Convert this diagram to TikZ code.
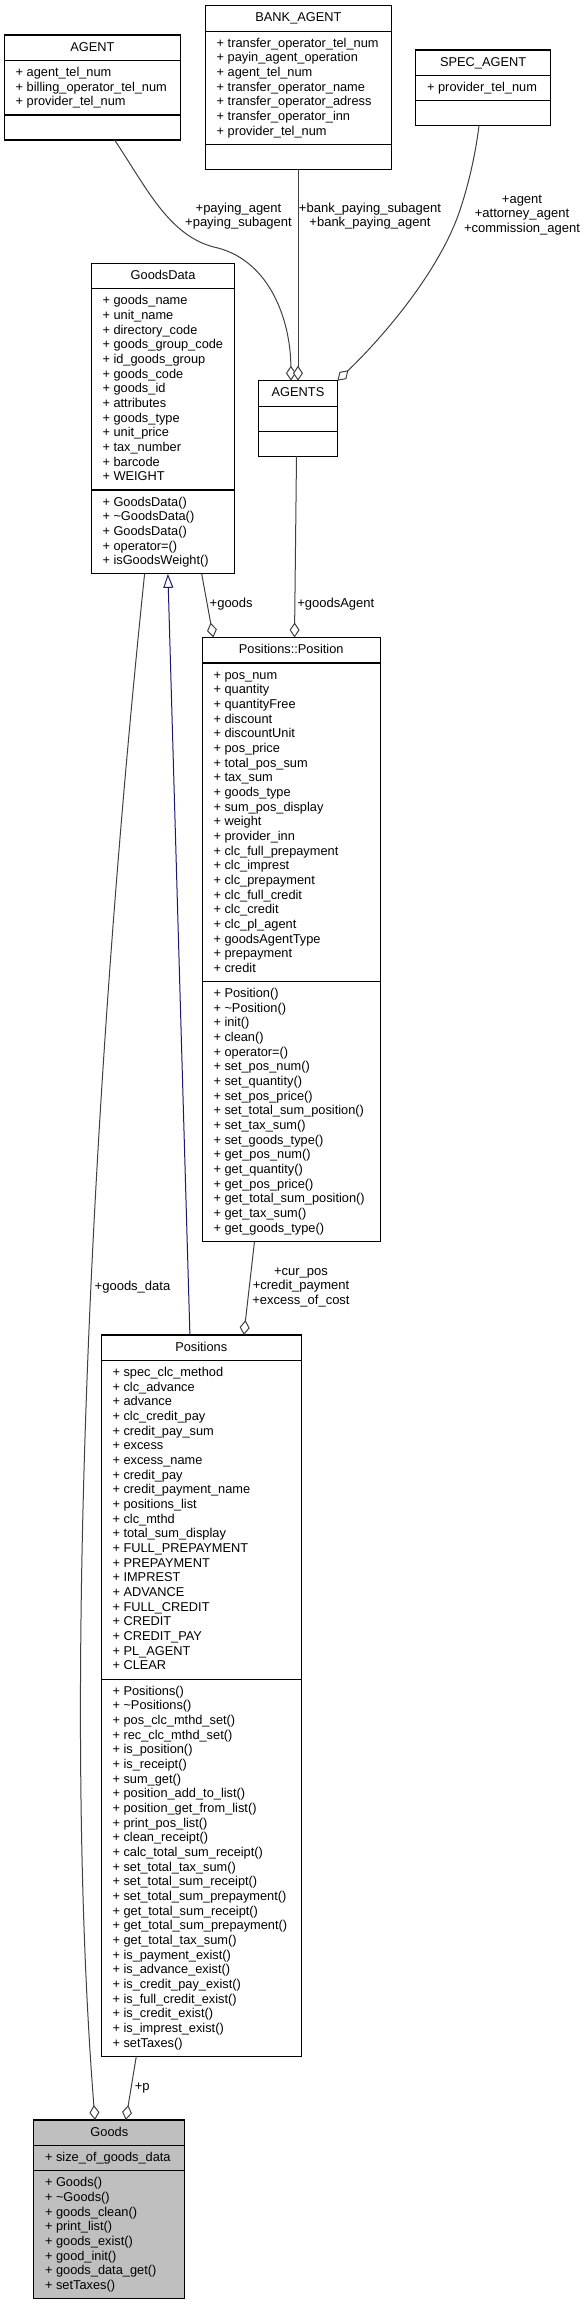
\documentclass[tikz,border=0pt]{standalone}
\usepackage{fontspec}
\setmainfont{Liberation Sans}
\usetikzlibrary{arrows.meta}
\definecolor{edgec}{HTML}{404040}
\definecolor{navyc}{HTML}{191970}
\definecolor{goodsfill}{HTML}{BFBFBF}
\tikzset{
  boxfill/.style={fill=white},
  box/.style={draw=black, line width=1.1pt, inner sep=0pt, outer sep=0pt, anchor=north west, boxfill},
  sepline/.style={draw=black, line width=1.1pt},
  txt/.style={anchor=base west, inner sep=0pt, font=\fontsize{12.8}{14.67}\selectfont},
  ttl/.style={anchor=base, inner sep=0pt, font=\fontsize{12.8}{14.67}\selectfont},
  lbl/.style={align=center, inner sep=0pt, font=\fontsize{13}{14.67}\selectfont},
  rel/.style={draw=edgec, line width=1pt},
  agg/.style={rel, {Diamond[open, fill=white, length=15pt, width=10pt]}-},
  gen/.style={draw=navyc, line width=1pt, -{Triangle[open, fill=white, length=14pt, width=10pt]}},
}
% #1 name, #2 x, #3 y(top), #4 width, #5 attr height, #6 meth height, #7 title
\newcommand{\umlbox}[7]{%
  \node[box, minimum width=#4pt, minimum height={(25.5+#5+#6)*1pt}] (#1) at (#2,#3) {};
  \draw[sepline] (#2,#3+25.5) -- ++(#4,0);
  \draw[sepline] (#2,#3+25.5+#5) -- ++(#4,0);
  \node[ttl] (#1-t) at ({#2+#4/2},{#3+16.2}) {#7};
}
% #1 name prefix, #2 x, #3 first baseline, #4 list
\newcommand{\umllines}[4]{%
  \foreach \t [count=\i from 0] in {#4} {\node[txt] (#1\i) at (#2,{#3+\i*14.67}) {+ \t};}
}
\begin{document}
\begin{tikzpicture}[x=1pt,y=-1pt]
\useasboundingbox (0,0) rectangle (586,2305);

% AGENT
\umlbox{AGENT}{4.5}{35}{175.8}{54.5}{25}{AGENT}
\umllines{AGENT-a}{15.5}{76.5}{agent\_tel\_num,billing\_operator\_tel\_num,provider\_tel\_num}

% BANK_AGENT
\umlbox{BANK}{205.5}{5.7}{185.9}{113.2}{25}{BANK\_AGENT}
\umllines{BANK-a}{216.5}{47.2}{transfer\_operator\_tel\_num,payin\_agent\_operation,agent\_tel\_num,transfer\_operator\_name,transfer\_operator\_adress,transfer\_operator\_inn,provider\_tel\_num}

% SPEC_AGENT
\umlbox{SPEC}{415.9}{50}{134.5}{25.2}{25}{SPEC\_AGENT}
\umllines{SPEC-a}{426.9}{91.5}{provider\_tel\_num}

% GoodsData
\umlbox{GoodsData}{91.3}{263.3}{143.5}{201.2}{83.85}{GoodsData}
\umllines{GoodsData-a}{102.3}{304.8}{goods\_name,unit\_name,directory\_code,goods\_group\_code,id\_goods\_group,goods\_code,goods\_id,attributes,goods\_type,unit\_price,tax\_number,barcode,WEIGHT}
\umllines{GoodsData-m}{102.3}{506}{GoodsData(),\textasciitilde GoodsData(),GoodsData(),operator=(),isGoodsWeight()}

% AGENTS
\umlbox{AGENTS}{258.5}{380.7}{79}{25}{25}{AGENTS}

% Positions::Position
\umlbox{Position}{202.3}{637.5}{177.8}{318.6}{259.9}{Positions::Position}
\umllines{Position-a}{213.3}{679}{pos\_num,quantity,quantityFree,discount,discountUnit,pos\_price,total\_pos\_sum,tax\_sum,goods\_type,sum\_pos\_display,weight,provider\_inn,clc\_full\_prepayment,clc\_imprest,clc\_prepayment,clc\_full\_credit,clc\_credit,clc\_pl\_agent,goodsAgentType,prepayment,credit}
\umllines{Position-m}{213.3}{997.6}{Position(),\textasciitilde Position(),init(),clean(),operator=(),set\_pos\_num(),set\_quantity(),set\_pos\_price(),set\_total\_sum\_position(),set\_tax\_sum(),set\_goods\_type(),get\_pos\_num(),get\_quantity(),get\_pos\_price(),get\_total\_sum\_position(),get\_tax\_sum(),get\_goods\_type()}

% Positions
\umlbox{Positions}{101.3}{1335}{199.9}{318.6}{377.25}{Positions}
\umllines{Positions-a}{112.3}{1376.5}{spec\_clc\_method,clc\_advance,advance,clc\_credit\_pay,credit\_pay\_sum,excess,excess\_name,credit\_pay,credit\_payment\_name,positions\_list,clc\_mthd,total\_sum\_display,FULL\_PREPAYMENT,PREPAYMENT,IMPREST,ADVANCE,FULL\_CREDIT,CREDIT,CREDIT\_PAY,PL\_AGENT,CLEAR}
\umllines{Positions-m}{112.3}{1695.1}{Positions(),\textasciitilde Positions(),pos\_clc\_mthd\_set(),rec\_clc\_mthd\_set(),is\_position(),is\_receipt(),sum\_get(),position\_add\_to\_list(),position\_get\_from\_list(),print\_pos\_list(),clean\_receipt(),calc\_total\_sum\_receipt(),set\_total\_tax\_sum(),set\_total\_sum\_receipt(),set\_total\_sum\_prepayment(),get\_total\_sum\_receipt(),get\_total\_sum\_prepayment(),get\_total\_tax\_sum(),is\_payment\_exist(),is\_advance\_exist(),is\_credit\_pay\_exist(),is\_full\_credit\_exist(),is\_credit\_exist(),is\_imprest\_exist(),setTaxes()}

% Goods
\begin{scope}[boxfill/.style={fill=goodsfill}]
\umlbox{Goods}{33.8}{2120}{151}{25.2}{127.9}{Goods}
\end{scope}
\umllines{Goods-a}{44.8}{2161.5}{size\_of\_goods\_data}
\umllines{Goods-m}{44.8}{2186.7}{Goods(),\textasciitilde Goods(),goods\_clean(),print\_list(),goods\_exist(),good\_init(),goods\_data\_get(),setTaxes()}

% connectors
\draw[agg] ([xshift=32.5pt]AGENTS.north west) .. controls (290.5,320) and (270,262) .. (218,248) .. controls (170,238) and (148,190) .. ([xshift=110.1pt]AGENT.south west);
\draw[agg] (AGENTS.north) -- (AGENTS.north |- BANK.south);
\draw[agg] (AGENTS.north east) .. controls (385,335) and (440,270) .. (460,210) .. controls (470,180) and (476,150) .. ([xshift=63.1pt]SPEC.south west);
\draw[agg] ([xshift=11pt]Position.north west) -- ([xshift=110.4pt]GoodsData.south west);
\draw[agg] ([xshift=92.2pt]Position.north west) -- ([xshift=-1.5pt]AGENTS.south);
\draw[gen] ([xshift=88.6pt]Positions.north west) -- ([xshift=76.6pt]GoodsData.south west);
\draw[agg] ([xshift=61.2pt]Goods.north west) .. controls (62,1700) and (90,1100) .. ([xshift=53.3pt]GoodsData.south west);
\draw[agg] ([xshift=142.5pt]Positions.north west) -- ([xshift=52.2pt]Position.south west);
\draw[agg] ([xshift=92pt]Goods.north west) -- ([xshift=35pt]Positions.south west);

% labels
\node[lbl] (l-paying) at (238.5,216) {+paying\_agent\\+paying\_subagent};
\node[lbl] (l-bank) at (370,216) {+bank\_paying\_subagent\\+bank\_paying\_agent};
\node[lbl] (l-spec) at (522,215) {+agent\\+attorney\_agent\\+commission\_agent};
\node[lbl] (l-goods) at (231.2,604) {+goods};
\node[lbl] (l-goodsAgent) at (335.8,604) {+goodsAgent};
\node[lbl] (l-cur) at (301,1287.3) {+cur\_pos\\+credit\_payment\\+excess\_of\_cost};
\node[lbl] (l-goodsdata) at (132.5,1287.3) {+goods\_data};
\node[lbl] (l-p) at (142.3,2088.3) {+p};
\end{tikzpicture}
\end{document}
